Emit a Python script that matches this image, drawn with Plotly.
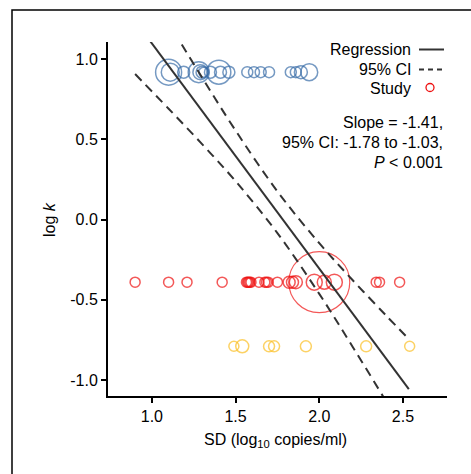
import plotly.graph_objects as go

FONT = "Liberation Sans, Arial, Helvetica, sans-serif"

# ---- data ----
blue_x = [1.10, 1.11, 1.19, 1.28, 1.29, 1.30, 1.31, 1.35, 1.40, 1.41, 1.46,
          1.57, 1.61, 1.65, 1.70, 1.83, 1.86, 1.89, 1.94]
blue_y = [0.92, 0.92, 0.92, 0.92, 0.92, 0.92, 0.92, 0.92, 0.92, 0.92, 0.92,
          0.92, 0.92, 0.92, 0.92, 0.92, 0.92, 0.92, 0.92]
blue_w = [26, 18, 12, 21, 15, 12, 10, 12, 24, 12, 12, 11, 11, 11, 11, 11, 11, 13, 17]

red_x = [0.90, 1.10, 1.21, 1.42, 1.565, 1.572, 1.578, 1.585, 1.592, 1.64,
         1.675, 1.685, 1.695, 1.75, 1.82, 1.84, 1.86, 1.97, 2.00, 2.03, 2.09,
         2.34, 2.36, 2.48]
red_y = [-0.39, -0.39, -0.39, -0.39, -0.39, -0.39, -0.39, -0.39, -0.39, -0.39,
         -0.39, -0.39, -0.39, -0.39, -0.39, -0.39, -0.39, -0.39, -0.39, -0.39,
         -0.39, -0.39, -0.39, -0.39]
red_w = [10, 10, 10, 10, 10, 10, 10, 10, 10, 10, 10, 10, 10, 10, 12, 12, 13,
         16, 61, 14, 16, 10, 10, 10]

yel_x = [1.49, 1.54, 1.70, 1.73, 1.92, 2.28, 2.54]
yel_y = [-0.79, -0.79, -0.79, -0.79, -0.79, -0.79, -0.79]
yel_w = [10, 13, 11, 11, 11, 11, 10]

reg_x = [0.90, 2.535]
reg_y = [1.24, -1.057]

ci_x = [0.90, 1.10, 1.30, 1.50, 1.75, 2.00, 2.20, 2.40, 2.535]
ci_up = [1.573, 1.228, 0.886, 0.556, 0.176, -0.147, -0.378, -0.599, -0.745]
ci_lo = [0.908, 0.692, 0.471, 0.240, -0.084, -0.463, -0.794, -1.135, -1.368]

x_ticks = [1.0, 1.5, 2.0, 2.5]
x_labels = ["1.0", "1.5", "2.0", "2.5"]
y_ticks = [-1.0, -0.5, 0.0, 0.5, 1.0]
y_labels = ["-1.0", "-0.5", "0.0", "0.5", "1.0"]

BLUE = "#3a6ea8"
RED = "#ee1111"
YEL = "#fbbf24"
LINE = "#333333"

# ---- layout geometry (pixels) ----
W, H = 471, 474
L, R, T, B = 108, 24, 42, 78
PW, PH = W - L - R, H - T - B


def px(x):
    return (x - L) / PW


def py(y):
    return (H - B - y) / PH


fig = go.Figure()

for xs, ys, ws, col in [(blue_x, blue_y, blue_w, BLUE),
                        (red_x, red_y, red_w, RED),
                        (yel_x, yel_y, yel_w, YEL)]:
    fig.add_trace(go.Scatter(
        x=xs, y=ys, mode="markers", showlegend=False, hoverinfo="skip",
        marker=dict(symbol="circle-open", size=ws, color=col,
                    line=dict(color=col, width=[1.2 if w > 40 else 1.5 for w in ws])),
    ))

fig.add_trace(go.Scatter(x=ci_x, y=ci_up, mode="lines", line_shape="spline",
                         line=dict(color=LINE, width=2, dash="9px,6px"),
                         showlegend=False, hoverinfo="skip"))
fig.add_trace(go.Scatter(x=ci_x, y=ci_lo, mode="lines", line_shape="spline",
                         line=dict(color=LINE, width=2, dash="9px,6px"),
                         showlegend=False, hoverinfo="skip"))
fig.add_trace(go.Scatter(x=reg_x, y=reg_y, mode="lines",
                         line=dict(color=LINE, width=2),
                         showlegend=False, hoverinfo="skip"))

axis_common = dict(showgrid=False, zeroline=False, showline=True, linecolor="black",
                   linewidth=2, ticks="outside", ticklen=5, tickwidth=1.5,
                   tickcolor="black", tickfont=dict(family=FONT, size=16, color="black"))

fig.update_xaxes(range=[0.738, 2.763], tickvals=x_ticks, ticktext=x_labels, **axis_common)
fig.update_yaxes(range=[-1.1, 1.108], tickvals=y_ticks, ticktext=y_labels, **axis_common)

ann = []
# axis titles
ann.append(dict(x=px(275), y=py(440), xref="paper", yref="paper",
                text="SD (log<sub>10</sub> copies/ml)", showarrow=False,
                xanchor="center", yanchor="middle",
                font=dict(family=FONT, size=16, color="black")))
ann.append(dict(x=px(50), y=py(220), xref="paper", yref="paper",
                text="log <i>k</i>", showarrow=False, textangle=-90,
                xanchor="center", yanchor="middle",
                font=dict(family=FONT, size=16, color="black")))
# legend text
for txt, yy in [("Regression", 49.5), ("95% CI", 69.5), ("Study", 88)]:
    ann.append(dict(x=px(413), y=py(yy), xref="paper", yref="paper", text=txt,
                    showarrow=False, xanchor="right", yanchor="middle",
                    font=dict(family=FONT, size=16, color="black")))
# stats text
for txt, yy in [("Slope = -1.41,", 122), ("95% CI: -1.78 to -1.03,", 142),
                ("<i>P</i> < 0.001", 162)]:
    ann.append(dict(x=px(445), y=py(yy), xref="paper", yref="paper", text=txt,
                    showarrow=False, xanchor="right", yanchor="middle",
                    font=dict(family=FONT, size=16, color="black")))

shapes = [
    # outer frame (partly outside the window)
    dict(type="rect", xref="paper", yref="paper", x0=px(12), x1=px(490),
         y0=py(495), y1=py(10), line=dict(color="black", width=1.5), layer="below"),
    # legend glyphs
    dict(type="line", xref="paper", yref="paper", x0=px(419), x1=px(444),
         y0=py(49.5), y1=py(49.5), line=dict(color=LINE, width=2)),
    dict(type="line", xref="paper", yref="paper", x0=px(419), x1=px(444),
         y0=py(69.5), y1=py(69.5), line=dict(color=LINE, width=2, dash="5px,4px")),
    dict(type="circle", xref="paper", yref="paper", x0=px(426), x1=px(434),
         y0=py(91.5), y1=py(83.5), line=dict(color=RED, width=1.3)),
]

fig.update_layout(
    width=W, height=H, autosize=False,
    margin=dict(l=L, r=R, t=T, b=B, pad=0),
    paper_bgcolor="white", plot_bgcolor="white",
    font=dict(family=FONT, size=16, color="black"),
    annotations=ann, shapes=shapes, showlegend=False,
)

fig.write_html("out.html", config={"displayModeBar": False},
               post_script="document.body.style.margin='0';document.body.style.overflow='hidden';")
